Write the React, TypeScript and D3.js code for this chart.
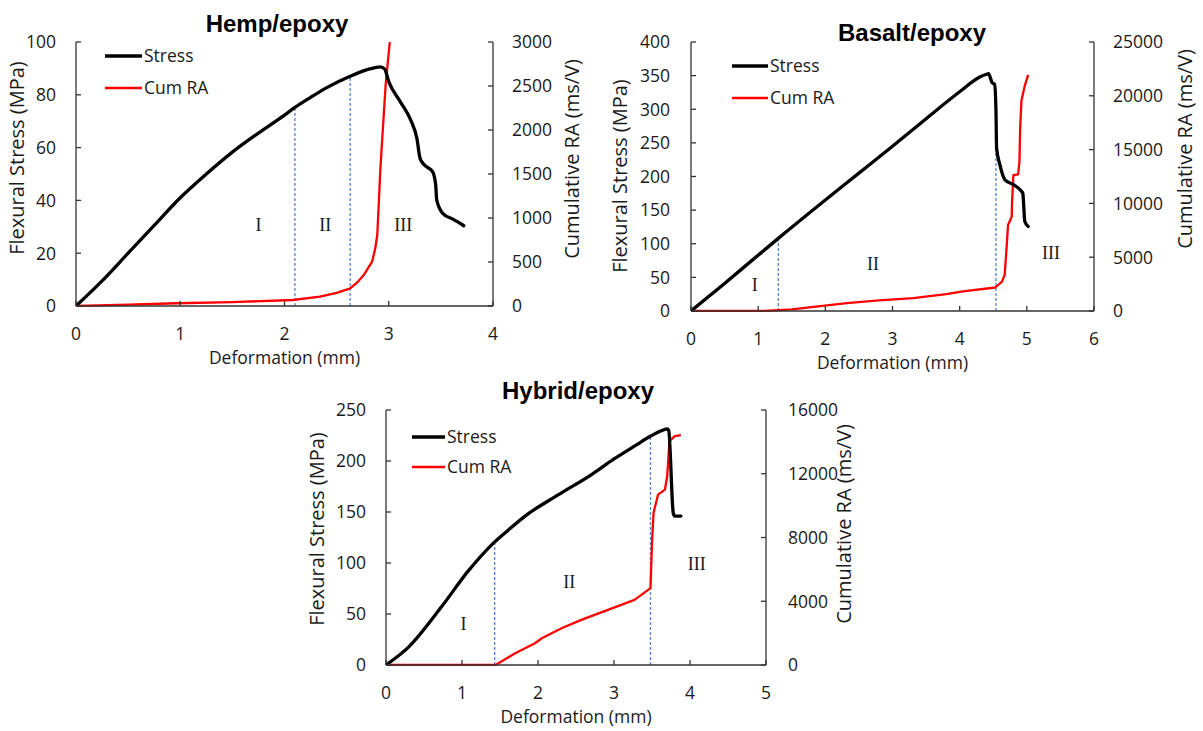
import React from "react";
import * as d3 from "d3";

type Pt = [number, number];

// ---------- DATA ----------
const hempStress: Pt[] = [
  [0, 0], [0.25, 9.5], [0.5, 20], [0.75, 30.5], [1.0, 41], [1.25, 50], [1.5, 58.3],
  [1.75, 65.5], [2.0, 72.3], [2.10, 75.2], [2.25, 79], [2.41, 82.8], [2.63, 87], [2.80, 89.6],
  [2.92, 90.6], [2.96, 89.8],
  [3.0, 85], [3.11, 77.4], [3.21, 70.5], [3.27, 63.5], [3.30, 56], [3.34, 53.5],
  [3.42, 50.9], [3.45, 46], [3.46, 40.2], [3.52, 35], [3.62, 32.8], [3.72, 30.4],
];
const hempRA: Pt[] = [
  [0, 0], [0.5, 15], [0.97, 31], [1.5, 45], [2.08, 68], [2.34, 106], [2.5, 150],
  [2.63, 201], [2.70, 270], [2.76, 352], [2.84, 503], [2.87, 650], [2.89, 807],
  [2.92, 1565], [2.97, 2511], [3.01, 3000],
];
const hempDashes: number[] = [2.10, 2.63];
const hempRegions: string[] = ["I", "II", "III"];
const hempRegionPos: Pt[] = [[1.75, 30.7], [2.39, 30.7], [3.14, 30.7]];

const basaltStress: Pt[] = [
  [0, 0], [0.5, 41], [1.0, 83], [1.3, 108], [2.0, 165], [2.5, 205], [3.0, 245],
  [3.5, 286], [4.0, 326], [4.3, 348], [4.40, 352], [4.43, 353], [4.46, 346],
  [4.48, 340], [4.52, 337], [4.54, 300], [4.55, 242], [4.60, 217], [4.675, 195],
  [4.8, 188], [4.92, 178], [4.94, 175], [4.97, 133], [5.02, 125.6],
];
const basaltRA: Pt[] = [
  [0, 0], [1.1, 0], [1.5, 150], [2.32, 741], [2.8, 980], [3.31, 1204], [3.8, 1560],
  [4.05, 1815], [4.53, 2185], [4.63, 2740], [4.67, 3361], [4.70, 6000], [4.72, 7992],
  [4.775, 8760], [4.78, 10150], [4.80, 12620], [4.87, 12700], [4.89, 13855],
  [4.90, 16946], [4.92, 19566], [4.97, 20955], [5.02, 21946],
];
const basaltDashes: number[] = [1.30, 4.54];
const basaltRegions: string[] = ["I", "II", "III"];
const basaltRegionPos: Pt[] = [[0.95, 39], [2.71, 71], [5.36, 86]];

const hybridStress: Pt[] = [
  [0, 0], [0.30, 17.8], [0.73, 57], [1.08, 92], [1.41, 119.3], [1.61, 132.4],
  [1.83, 146], [2.27, 167], [2.71, 187], [3.0, 202], [3.3, 216], [3.47, 224],
  [3.6, 229], [3.70, 231.5], [3.72, 230], [3.78, 148.8], [3.80, 146], [3.88, 146],
];
const hybridRA: Pt[] = [
  [0, 0], [1.44, 0], [1.70, 734], [1.96, 1363], [2.05, 1677], [2.31, 2307],
  [2.57, 2831], [2.92, 3460], [3.27, 4089], [3.48, 4823], [3.50, 7653],
  [3.52, 9541], [3.58, 10693], [3.67, 11008], [3.70, 11846], [3.73, 14046],
  [3.80, 14360], [3.88, 14423],
];
const hybridDashes: number[] = [1.43, 3.48];
const hybridRegions: string[] = ["I", "II", "III"];
const hybridRegionPos: Pt[] = [[1.02, 40.8], [2.41, 81.6], [4.09, 99.7]];

const xTicksHemp = [0, 1, 2, 3, 4];
const yTicksHemp = [0, 20, 40, 60, 80, 100];
const y2TicksHemp = [0, 500, 1000, 1500, 2000, 2500, 3000];
const xTicksBasalt = [0, 1, 2, 3, 4, 5, 6];
const yTicksBasalt = [0, 50, 100, 150, 200, 250, 300, 350, 400];
const y2TicksBasalt = [0, 5000, 10000, 15000, 20000, 25000];
const xTicksHybrid = [0, 1, 2, 3, 4, 5];
const yTicksHybrid = [0, 50, 100, 150, 200, 250];
const y2TicksHybrid = [0, 4000, 8000, 12000, 16000];

const legendLabels = ["Stress", "Cum RA"];
const xTitle = "Deformation (mm)";
const yTitle = "Flexural Stress (MPa)";
const y2Title = "Cumulative RA (ms/V)";

// ---------- LAYOUT ----------
interface Layout {
  l: number; r: number; t: number; b: number;
  titleX: number; titleY: number;
  leftLabX: number; rightLabX: number;
  yTitleX: number; yTitleY: number;
  y2TitleX: number; y2TitleY: number;
  legX1: number; legX2: number; legY1: number; legY2: number;
}

const panels = [
  {
    id: "hemp", title: "Hemp/epoxy", stress: hempStress, ra: hempRA,
    dashes: hempDashes, regions: hempRegions, regionPos: hempRegionPos,
    xTicks: xTicksHemp, yTicks: yTicksHemp, y2Ticks: y2TicksHemp,
    lay: {
      l: 76, r: 493, t: 42, b: 306, titleX: 277, titleY: 31.5,
      leftLabX: 56, rightLabX: 512, yTitleX: 17, yTitleY: 158, y2TitleX: 572, y2TitleY: 159,
      legX1: 105, legX2: 142, legY1: 56, legY2: 88,
    } as Layout,
  },
  {
    id: "basalt", title: "Basalt/epoxy", stress: basaltStress, ra: basaltRA,
    dashes: basaltDashes, regions: basaltRegions, regionPos: basaltRegionPos,
    xTicks: xTicksBasalt, yTicks: yTicksBasalt, y2Ticks: y2TicksBasalt,
    lay: {
      l: 691, r: 1094, t: 42, b: 311, titleX: 912, titleY: 40.5,
      leftLabX: 670, rightLabX: 1113, yTitleX: 620, yTitleY: 176, y2TitleX: 1185, y2TitleY: 149,
      legX1: 732, legX2: 768, legY1: 66, legY2: 98,
    } as Layout,
  },
  {
    id: "hybrid", title: "Hybrid/epoxy", stress: hybridStress, ra: hybridRA,
    dashes: hybridDashes, regions: hybridRegions, regionPos: hybridRegionPos,
    xTicks: xTicksHybrid, yTicks: yTicksHybrid, y2Ticks: y2TicksHybrid,
    lay: {
      l: 386, r: 766, t: 410, b: 665, titleX: 578, titleY: 399,
      leftLabX: 366, rightLabX: 788, yTitleX: 317, yTitleY: 529, y2TitleX: 844, y2TitleY: 524,
      legX1: 412, legX2: 445, legY1: 437, legY2: 467,
    } as Layout,
  },
];

const FONT = "'Open Sans', 'DejaVu Sans', sans-serif";
const AXIS = "#333";
const TXT = "#1a1a1a";

function interp(data: Pt[], xv: number): number {
  const i = d3.bisector((d: Pt) => d[0]).left(data, xv);
  if (i <= 0) return data[0][1];
  if (i >= data.length) return data[data.length - 1][1];
  const a = data[i - 1], b = data[i];
  const t = (xv - a[0]) / (b[0] - a[0]);
  return a[1] + t * (b[1] - a[1]);
}

function Panel({ p }: { p: typeof panels[number] }) {
  const L = p.lay;
  const xMax = p.xTicks[p.xTicks.length - 1];
  const yMax = p.yTicks[p.yTicks.length - 1];
  const y2Max = p.y2Ticks[p.y2Ticks.length - 1];
  const x = d3.scaleLinear().domain([0, xMax]).range([L.l, L.r]);
  const y = d3.scaleLinear().domain([0, yMax]).range([L.b, L.t]);
  const y2 = d3.scaleLinear().domain([0, y2Max]).range([L.b, L.t]);
  const lineS = d3.line<Pt>().x((d) => x(d[0])).y((d) => y(d[1])).curve(d3.curveMonotoneX);
  const lineR = d3.line<Pt>().x((d) => x(d[0])).y((d) => y2(d[1]));
  const clipId = `clip-${p.id}`;
  const tk = 5;
  return (
    <g>
      <defs>
        <clipPath id={clipId}>
          <rect x={L.l} y={L.t - 1} width={L.r - L.l + 2} height={L.b - L.t + 2} />
        </clipPath>
      </defs>
      <text x={L.titleX} y={L.titleY} textAnchor="middle"
        fontFamily="'Liberation Sans', Arial, sans-serif" fontWeight="bold" fontSize={24} fill="#000">
        {p.title}
      </text>
      {p.dashes.map((dx, i) => (
        <line key={`d${i}`} x1={x(dx)} x2={x(dx)} y1={y(0)} y2={y(interp(p.stress, dx))}
          stroke="#4f86cc" strokeWidth={1.3} strokeDasharray="3,2" />
      ))}
      <g clipPath={`url(#${clipId})`}>
        <path d={lineR(p.ra) || ""} fill="none" stroke="#ff0000" strokeWidth={2.3} strokeLinejoin="round" />
        <path d={lineS(p.stress) || ""} fill="none" stroke="#000" strokeWidth={3.3} strokeLinejoin="round" strokeLinecap="round" />
      </g>
      <line x1={L.l} x2={L.l} y1={L.t} y2={L.b} stroke={AXIS} strokeWidth={1.3} />
      <line x1={L.r} x2={L.r} y1={L.t} y2={L.b} stroke={AXIS} strokeWidth={1.3} />
      <line x1={L.l} x2={L.r} y1={L.b} y2={L.b} stroke={AXIS} strokeWidth={1.3} />
      {p.xTicks.map((t) => (
        <g key={`x${t}`}>
          <line x1={x(t)} x2={x(t)} y1={L.b} y2={L.b - tk} stroke={AXIS} strokeWidth={1.3} />
          <text x={x(t)} y={L.b + 34} textAnchor="middle" fontFamily={FONT} fontSize={17.5} fill={TXT}>{t}</text>
        </g>
      ))}
      {p.yTicks.map((t) => (
        <g key={`y${t}`}>
          <line x1={L.l} x2={L.l + tk} y1={y(t)} y2={y(t)} stroke={AXIS} strokeWidth={1.3} />
          <text x={L.leftLabX} y={y(t)} dy="0.36em" textAnchor="end" fontFamily={FONT} fontSize={17.5} fill={TXT}>{t}</text>
        </g>
      ))}
      {p.y2Ticks.map((t) => (
        <g key={`r${t}`}>
          <line x1={L.r} x2={L.r - tk} y1={y2(t)} y2={y2(t)} stroke={AXIS} strokeWidth={1.3} />
          <text x={L.rightLabX} y={y2(t)} dy="0.36em" textAnchor="start" fontFamily={FONT} fontSize={17.5} fill={TXT}>{t}</text>
        </g>
      ))}
      <text x={(L.l + L.r) / 2} y={L.b + 58} textAnchor="middle" fontFamily={FONT} fontSize={17.5} fill={TXT}>{xTitle}</text>
      <text transform={`translate(${L.yTitleX},${L.yTitleY}) rotate(-90)`} textAnchor="middle" dy="0.36em"
        fontFamily={FONT} fontSize={20} fill={TXT}>{yTitle}</text>
      <text transform={`translate(${L.y2TitleX},${L.y2TitleY}) rotate(-90)`} textAnchor="middle" dy="0.36em"
        fontFamily={FONT} fontSize={20} fill={TXT}>{y2Title}</text>
      {p.regions.map((r, i) => (
        <text key={`rg${i}`} x={x(p.regionPos[i][0])} y={y(p.regionPos[i][1])} dy="0.35em" textAnchor="middle"
          fontFamily="'Liberation Serif', 'DejaVu Serif', serif" fontSize={18} fill={TXT}>{r}</text>
      ))}
      <line x1={L.legX1} x2={L.legX2} y1={L.legY1} y2={L.legY1} stroke="#000" strokeWidth={3.3} />
      <text x={L.legX2 + 2} y={L.legY1} dy="0.36em" fontFamily={FONT} fontSize={17.5} fill={TXT}>{legendLabels[0]}</text>
      <line x1={L.legX1} x2={L.legX2} y1={L.legY2} y2={L.legY2} stroke="#ff0000" strokeWidth={2.3} />
      <text x={L.legX2 + 2} y={L.legY2} dy="0.36em" fontFamily={FONT} fontSize={17.5} fill={TXT}>{legendLabels[1]}</text>
    </g>
  );
}

export default function App() {
  return (
    <svg width={1203} height={731} viewBox="0 0 1203 731"
      style={{ position: "absolute", left: 0, top: 0, background: "#fff" }}>
      <rect x={0} y={0} width={1203} height={731} fill="#fff" />
      {panels.map((p) => <Panel key={p.id} p={p} />)}
    </svg>
  );
}
